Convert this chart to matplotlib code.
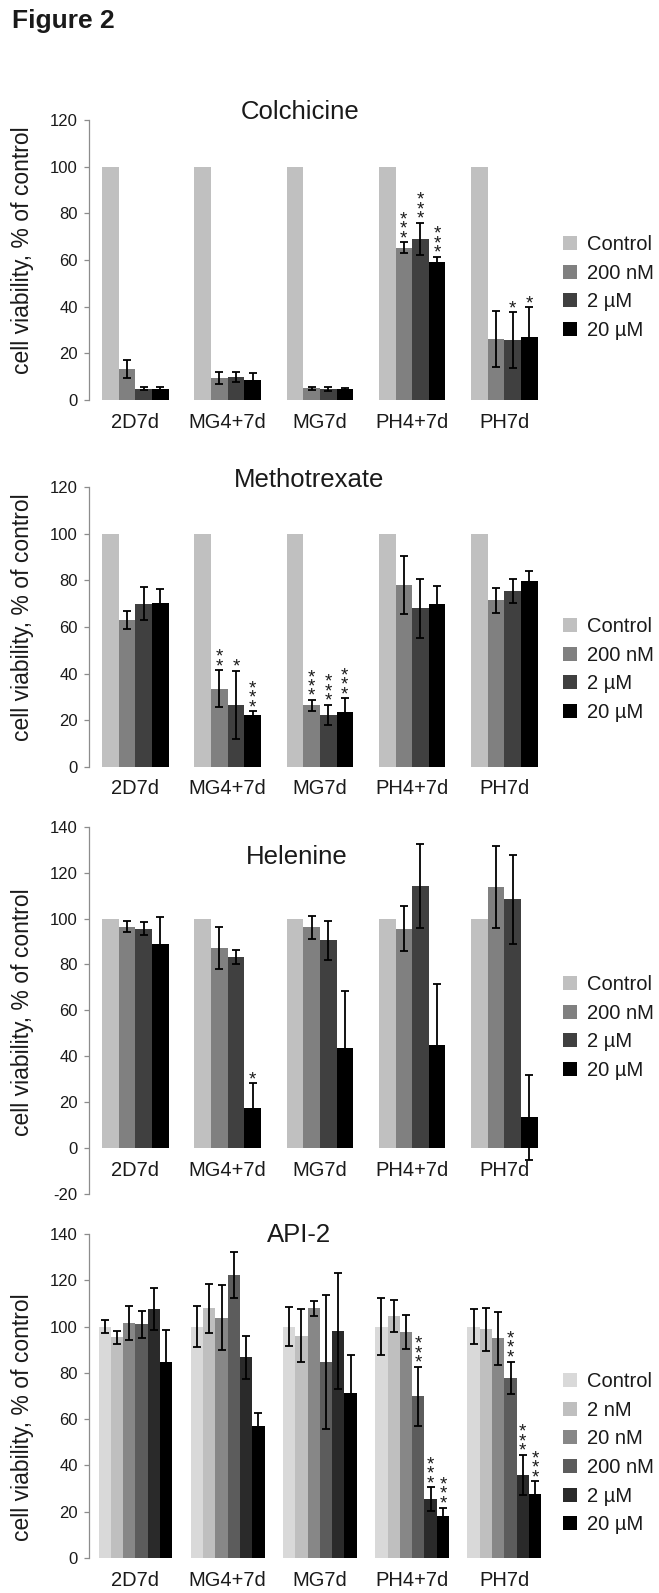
import matplotlib
matplotlib.use("Agg")
import matplotlib.pyplot as plt
import numpy as np

plt.rcParams['font.family'] = ['Liberation Sans', 'DejaVu Sans']
plt.rcParams['axes.unicode_minus'] = False

groups = ["2D7d", "MG4+7d", "MG7d", "PH4+7d", "PH7d"]

# ---- Colchicine ----
col_labels = ["Control", "200 nM", "2 µM", "20 µM"]
col_ctrl = [100, 100, 100, 100, 100]
col_200n = [13.3, 9.6, 5.0, 65.3, 26.0]
col_200n_err = [3.7, 2.6, 0.5, 2.3, 12.0]
col_2u = [4.9, 9.9, 4.7, 69.0, 25.6]
col_2u_err = [0.8, 2.3, 0.8, 7.0, 12.0]
col_20u = [4.9, 8.6, 4.7, 59.1, 27.0]
col_20u_err = [0.6, 2.9, 0.5, 2.2, 12.7]
col_stars = [(3, 1, "***"), (3, 2, "***"), (3, 3, "***"), (4, 2, "*"), (4, 3, "*")]

# ---- Methotrexate ----
met_ctrl = [100, 100, 100, 100, 100]
met_200n = [63.1, 33.6, 26.4, 78.0, 71.5]
met_200n_err = [3.8, 7.8, 2.3, 12.3, 5.3]
met_2u = [70.0, 26.7, 22.4, 68.0, 75.5]
met_2u_err = [7.0, 14.5, 4.3, 12.7, 5.2]
met_20u = [70.4, 22.4, 23.7, 69.9, 79.6]
met_20u_err = [5.8, 1.4, 5.7, 7.6, 4.5]
met_stars = [(1, 1, "**"), (1, 2, "*"), (1, 3, "***"),
             (2, 1, "***"), (2, 2, "***"), (2, 3, "***")]

# ---- Helenine ----
hel_ctrl = [100, 100, 100, 100, 100]
hel_200n = [96.4, 87.2, 96.2, 95.6, 113.7]
hel_200n_err = [2.4, 9.3, 5.1, 9.9, 17.9]
hel_2u = [95.6, 83.4, 90.6, 114.2, 108.3]
hel_2u_err = [2.8, 3.0, 8.5, 18.3, 19.2]
hel_20u = [88.8, 17.4, 43.5, 44.8, 13.4]
hel_20u_err = [11.8, 10.9, 25.0, 26.8, 18.6]
hel_stars = [(1, 3, "*")]

# ---- API-2 ----
api_labels = ["Control", "2 nM", "20 nM", "200 nM", "2 µM", "20 µM"]
api_ctrl = [100, 100, 100, 100, 100]
api_ctrl_err = [2.7, 8.7, 8.4, 12.4, 7.7]
api_2n = [95.4, 107.9, 96.0, 104.6, 98.8]
api_2n_err = [2.9, 10.5, 11.5, 6.8, 9.4]
api_20n = [101.4, 103.8, 107.9, 97.7, 95.0]
api_20n_err = [7.4, 14.1, 3.2, 7.2, 11.4]
api_200n = [100.9, 122.4, 84.8, 69.9, 77.9]
api_200n_err = [5.8, 10.0, 29.0, 12.7, 7.0]
api_2u = [107.5, 86.7, 98.0, 25.4, 35.8]
api_2u_err = [9.1, 9.2, 25.0, 5.2, 8.7]
api_20u = [84.7, 57.0, 71.4, 18.2, 27.6]
api_20u_err = [14.0, 5.8, 16.2, 3.6, 5.5]
api_stars = [(3, 3, "***"), (3, 4, "***"), (3, 5, "***"),
             (4, 3, "***"), (4, 4, "***"), (4, 5, "***")]

colors4 = ["#c0c0c0", "#808080", "#404040", "#000000"]
colors6 = ["#d9d9d9", "#bfbfbf", "#878787", "#5c5c5c", "#2a2a2a", "#000000"]

W, H = 659, 1593
fig = plt.figure(figsize=(W / 100, H / 100), dpi=100)

TXT = "#1a1a1a"
AXC = "#8c8c8c"


def make_axes(top_px, bot_px, left_px=89.3, right_px=550.5):
    return fig.add_axes([left_px / W, 1 - bot_px / H,
                         (right_px - left_px) / W, (bot_px - top_px) / H])


def panel(ax, series, errs, colors, labels, stars, ylim, yticks, width,
          title, title_xy, ylabel_y, legend_top):
    n = len(series)
    x = np.arange(len(groups))
    bar_tops = {}
    for i, (vals, err) in enumerate(zip(series, errs)):
        pos = x + (i - (n - 1) / 2) * width
        ax.bar(pos, vals, width=width, color=colors[i], label=labels[i],
               linewidth=0)
        if err is not None:
            ax.errorbar(pos, vals, yerr=err, fmt='none', ecolor='black',
                        elinewidth=1.3, capsize=3.2, capthick=1.3)
        for g in range(len(groups)):
            top = vals[g] + (err[g] if err is not None else 0)
            bar_tops[(g, i)] = (pos[g], top)
    for g, i, s in stars:
        px, top = bar_tops[(g, i)]
        ax.annotate("\n".join(s), (px, top), xytext=(0, -3.5),
                    textcoords='offset points', ha='center', va='bottom',
                    fontsize=13.5, linespacing=0.42, color=TXT)
    ax.set_xlim(-0.5, 4.5)
    ax.set_ylim(*ylim)
    for sp in ("top", "right"):
        ax.spines[sp].set_visible(False)
    ax.spines["bottom"].set_position(("data", 0))
    ax.spines["bottom"].set_visible(False)
    ax.spines["left"].set_color(AXC)
    ax.spines["left"].set_linewidth(0.9)
    ax.set_yticks(yticks)
    ax.set_xticks(x)
    ax.set_xticklabels(groups)
    ax.tick_params(axis='x', length=0, pad=9, labelsize=14.5,
                   labelcolor=TXT)
    ax.tick_params(axis='y', length=3.8, width=0.9, color=AXC, pad=4.5,
                   labelsize=12, labelcolor=TXT)
    ax.patch.set_alpha(0)
    fig.text(title_xy[0] / W, 1 - title_xy[1] / H, title, fontsize=18.5,
             ha='center', va='center', color=TXT)
    fig.text(23 / W, 1 - ylabel_y / H, "cell viability, % of control",
             rotation=90, fontsize=16.5, ha='center', va='center', color=TXT)
    ax.legend(loc='upper left', bbox_to_anchor=(563 / W, 1 - legend_top / H),
              bbox_transform=fig.transFigure, frameon=False, fontsize=14.5,
              handlelength=0.7, handleheight=0.7, handletextpad=0.5,
              labelspacing=0.48, borderaxespad=0, borderpad=0,
              labelcolor=TXT)


fig.text(12 / W, 1 - 21 / H, "Figure 2", fontsize=19, fontweight='bold',
         ha='left', va='center', color=TXT)

ax1 = make_axes(120, 400)
panel(ax1, [col_ctrl, col_200n, col_2u, col_20u],
      [None, col_200n_err, col_2u_err, col_20u_err], colors4, col_labels,
      col_stars, (0, 120), range(0, 121, 20), 0.18,
      "Colchicine", (300, 112), 250, 235)

ax2 = make_axes(487, 767)
panel(ax2, [met_ctrl, met_200n, met_2u, met_20u],
      [None, met_200n_err, met_2u_err, met_20u_err], colors4, col_labels,
      met_stars, (0, 120), range(0, 121, 20), 0.18,
      "Methotrexate", (309, 480), 617, 617)

ax3 = make_axes(826.7, 1194)
panel(ax3, [hel_ctrl, hel_200n, hel_2u, hel_20u],
      [None, hel_200n_err, hel_2u_err, hel_20u_err], colors4, col_labels,
      hel_stars, (-20, 140), range(-20, 141, 20), 0.18,
      "Helenine", (297, 857), 1012, 975)

ax4 = make_axes(1234, 1558)
panel(ax4, [api_ctrl, api_2n, api_20n, api_200n, api_2u, api_20u],
      [api_ctrl_err, api_2n_err, api_20n_err, api_200n_err, api_2u_err,
       api_20u_err], colors6, api_labels, api_stars, (0, 140),
      range(0, 141, 20), 0.1333, "API-2", (299, 1235), 1417, 1372)

fig.savefig("out.png", dpi=100)
